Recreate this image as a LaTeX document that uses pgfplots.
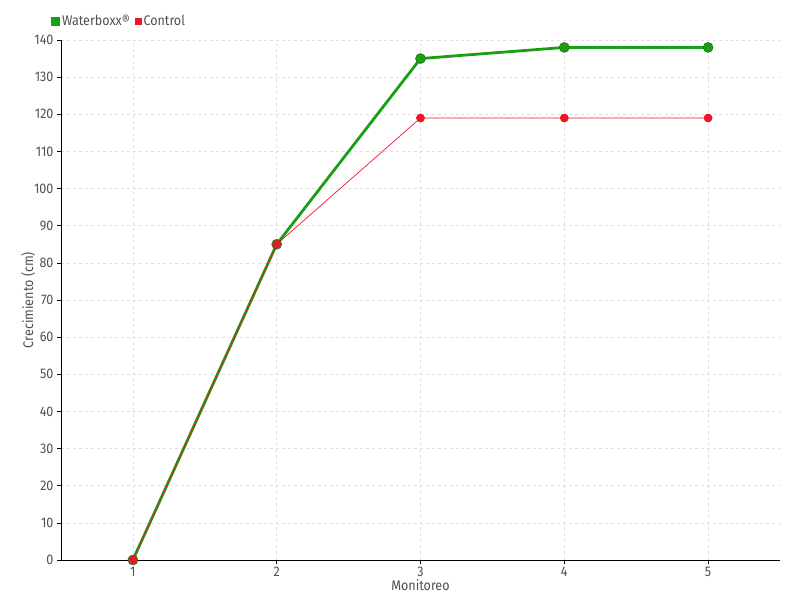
\documentclass[border=0pt]{standalone}
\usepackage{fontspec}
\setmainfont{Fira Sans}[FakeStretch=0.9]
\usepackage{pgfplots}
\pgfplotsset{compat=1.18}
\definecolor{wgreen}{RGB}{26,158,20}
\definecolor{cred}{RGB}{240,20,40}
\definecolor{txt}{RGB}{80,80,80}
\begin{document}
\begin{tikzpicture}
\begin{axis}[
  scale only axis,
  width=719bp, height=520bp,
  xmin=0.5, xmax=5.5,
  ymin=0, ymax=140,
  xtick={1,2,3,4,5},
  ytick={0,10,...,140},
  axis lines=left,
  axis line style={-, black, line width=0.8pt},
  tick align=outside,
  major tick length=4bp,
  tick style={black, line width=0.6pt},
  grid=major,
  grid style={dashed, gray!25, line width=0.6pt},
  every tick label/.style={font=\fontsize{14}{16}\selectfont, text=txt},
  /pgf/number format/assume math mode=true,
  xlabel={Monitoreo},
  ylabel={Crecimiento (cm)},
  label style={font=\fontsize{14}{16}\selectfont, text=txt},
  xlabel style={yshift=4bp},
  ylabel style={yshift=-8bp},
  legend columns=2,
  legend style={draw=none, fill=none, at={(rel axis cs:-0.018,1.036)}, anchor=west,
    font=\fontsize{14}{16}\selectfont, text=txt, /tikz/every even column/.append style={column sep=3bp}},
  legend cell align=left,
  clip=false,
]
\addplot[wgreen, line width=2.8pt, mark=*, mark size=5bp,
  mark options={fill=wgreen, draw=wgreen!70!black, line width=0.5pt},
  legend image code/.code={\fill[wgreen] (0bp,-3bp) rectangle (6bp,3bp);}]
  coordinates {(1,0)(2,85)(3,135)(4,138)(5,138)};
\addlegendentry{Waterboxx®}
\addplot[cred, line width=0.7pt, mark=*, mark size=4bp,
  mark options={fill=cred, draw=cred},
  legend image code/.code={\fill[cred] (0bp,-3bp) rectangle (6bp,3bp);}]
  coordinates {(1,0)(2,85)(3,119)(4,119)(5,119)};
\addlegendentry{Control}
\end{axis}
\useasboundingbox (-61bp,-40bp) rectangle (739bp,560bp);
\end{tikzpicture}
\end{document}
